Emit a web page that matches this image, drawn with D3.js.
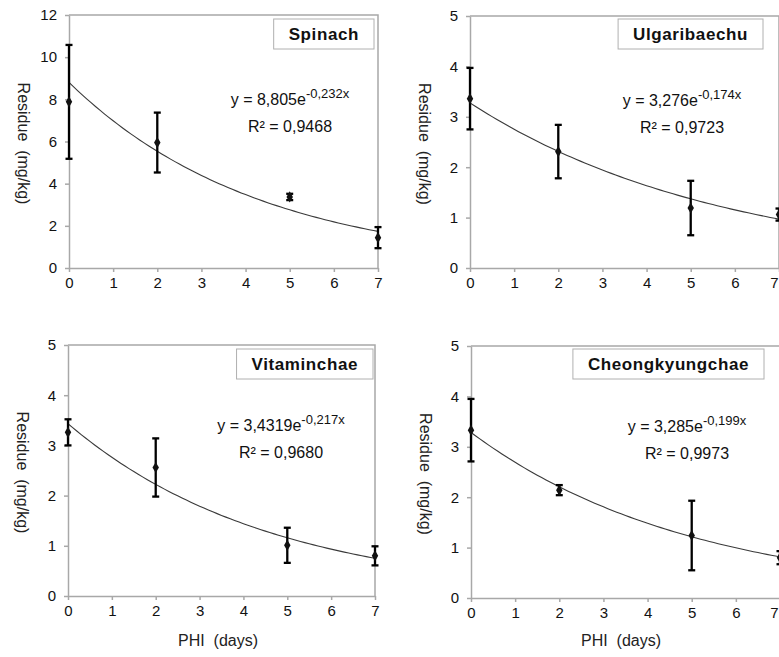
<!DOCTYPE html>
<html>
<head>
<meta charset="utf-8">
<script src="https://cdn.jsdelivr.net/npm/d3@7"></script>
<style>
  body { margin: 0; background: #fff; }
  svg { display: block; font-family: "Liberation Sans", Arial, sans-serif; }
  .axis path, .axis line { stroke: #a8a8a8; stroke-width: 1.5; }
  .axis text { font-size: 15px; fill: #111; }
</style>
</head>
<body>
<script>
(function (){

    //data
    var days = [0, 2, 5, 7];
    var crops = ["Spinach", "Ulgaribaechu", "Vitaminchae", "Cheongkyungchae"];
    var spinachMean = [7.88, 5.95, 3.37, 1.44];
    var spinachSd = [2.70, 1.42, 0.15, 0.50];
    var ulgariMean = [3.36, 2.31, 1.19, 1.06];
    var ulgariSd = [0.61, 0.53, 0.54, 0.12];
    var vitaMean = [3.26, 2.56, 1.01, 0.80];
    var vitaSd = [0.26, 0.58, 0.35, 0.19];
    var cheongMean = [3.33, 2.14, 1.24, 0.80];
    var cheongSd = [0.62, 0.10, 0.69, 0.13];
    var fitA = [8.805, 3.276, 3.4319, 3.285];
    var fitB = [-0.232, -0.174, -0.217, -0.199];
    var fitAText = ["8,805", "3,276", "3,4319", "3,285"];
    var fitBText = ["-0,232x", "-0,174x", "-0,217x", "-0,199x"];
    var r2Text = ["0,9468", "0,9723", "0,9680", "0,9973"];
    var yMax = [12, 5, 5, 5];
    var yStep = [2, 1, 1, 1];
    var xTicks = [0, 1, 2, 3, 4, 5, 6, 7];

    var means = [spinachMean, ulgariMean, vitaMean, cheongMean];
    var sds = [spinachSd, ulgariSd, vitaSd, cheongSd];

    //panel frames (pixels)
    var panels = [
        {x0: 69, x1: 378, top: 15, bottom: 268, eqX: 221, eqY: 90, boxY: 19, xlabel: false},
        {x0: 470, x1: 779, top: 16, bottom: 268, eqX: 212, eqY: 90, boxY: 19, xlabel: false},
        {x0: 68, x1: 375, top: 345, bottom: 596, eqX: 213, eqY: 86, boxY: 349, xlabel: true},
        {x0: 471, x1: 780, top: 346, bottom: 598, eqX: 216, eqY: 86, boxY: 349, xlabel: true}
    ];

    var svg = d3.select("body")
        .append("svg")
        .attr("width", 779)
        .attr("height", 657);

    panels.forEach(function(p, k){
        drawPanel(p, k);
    });

    function drawPanel(p, k){
        var x = d3.scaleLinear().domain([0, 7]).range([p.x0, p.x1]);
        var y = d3.scaleLinear().domain([0, yMax[k]]).range([p.bottom, p.top]);
        var g = svg.append("g");

        //plot frame top and right
        g.append("path")
            .attr("d", "M" + p.x0 + "," + p.top + "H" + p.x1 + "V" + p.bottom)
            .style("fill", "none")
            .style("stroke", "#a8a8a8")
            .style("stroke-width", 1.5);

        var yt = d3.range(0, yMax[k] + 0.001, yStep[k]);
        g.append("g")
            .attr("class", "axis")
            .attr("transform", "translate(" + p.x0 + ",0)")
            .call(d3.axisLeft(y).tickValues(yt).tickSize(4).tickSizeOuter(0).tickPadding(8).tickFormat(d3.format("d")));

        var xa = g.append("g")
            .attr("class", "axis")
            .attr("transform", "translate(0," + p.bottom + ")")
            .call(d3.axisBottom(x).tickValues(xTicks).tickSize(4).tickSizeOuter(0).tickPadding(5).tickFormat(d3.format("d")));

        //right column: last tick label sits at the page edge, keep it inside
        if (p.x1 >= 779){
            xa.selectAll(".tick text")
                .filter(function(d){ return d === 7; })
                .attr("text-anchor", "end")
                .attr("x", -1 - (p.x1 - 779));
        }

        //trend line
        var line = d3.line()
            .x(function(d){ return x(d); })
            .y(function(d){ return y(fitA[k] * Math.exp(fitB[k] * d)); });
        g.append("path")
            .datum(d3.range(0, 7.001, 0.1))
            .attr("d", line)
            .style("fill", "none")
            .style("stroke", "#3a3a3a")
            .style("stroke-width", 1.1);

        //error bars
        var pts = days.map(function(d, i){ return {d: d, m: means[k][i], s: sds[k][i]}; });
        var eb = g.selectAll(".eb").data(pts).enter().append("g");
        eb.append("line")
            .attr("x1", function(d){ return x(d.d); })
            .attr("x2", function(d){ return x(d.d); })
            .attr("y1", function(d){ return y(d.m + d.s); })
            .attr("y2", function(d){ return y(d.m - d.s); });
        eb.append("line")
            .attr("x1", function(d){ return x(d.d) - 3.5; })
            .attr("x2", function(d){ return x(d.d) + 3.5; })
            .attr("y1", function(d){ return y(d.m + d.s); })
            .attr("y2", function(d){ return y(d.m + d.s); });
        eb.append("line")
            .attr("x1", function(d){ return x(d.d) - 3.5; })
            .attr("x2", function(d){ return x(d.d) + 3.5; })
            .attr("y1", function(d){ return y(d.m - d.s); })
            .attr("y2", function(d){ return y(d.m - d.s); });
        eb.selectAll("line")
            .style("stroke", "#000")
            .style("stroke-width", 2.3);

        //diamond markers
        g.selectAll(".pt").data(pts).enter().append("path")
            .attr("d", d3.symbol().type(d3.symbolDiamond).size(36))
            .attr("transform", function(d){ return "translate(" + x(d.d) + "," + y(d.m) + ")"; })
            .style("fill", "#111");

        //equation
        var eq = g.append("text")
            .attr("x", p.x0 + p.eqX)
            .attr("y", p.top + p.eqY)
            .attr("text-anchor", "middle")
            .style("font-size", "16px")
            .style("fill", "#111");
        eq.append("tspan").text("y = " + fitAText[k] + "e");
        eq.append("tspan").attr("dy", -7).style("font-size", "13px").text(fitBText[k]);

        g.append("text")
            .attr("x", p.x0 + p.eqX)
            .attr("y", p.top + p.eqY + 27)
            .attr("text-anchor", "middle")
            .style("font-size", "16px")
            .style("fill", "#111")
            .text("R\u00b2 = " + r2Text[k]);

        //title box
        var box = g.append("rect");
        var title = g.append("text")
            .attr("y", p.boxY + 15)
            .attr("dominant-baseline", "central")
            .attr("text-anchor", "middle")
            .style("font-size", "17px")
            .style("font-weight", "bold")
            .style("letter-spacing", "0.6px")
            .style("fill", "#111")
            .text(crops[k]);
        var tw = title.node().getComputedTextLength();
        var boxRight = p.x0 + (k % 2 === 0 ? 305 : 293);
        var bw = tw + 30;
        title.attr("x", boxRight - bw / 2);
        box.attr("x", boxRight - bw)
            .attr("y", p.boxY)
            .attr("width", bw)
            .attr("height", 30)
            .style("fill", "#fff")
            .style("stroke", "#b0b0b0")
            .style("stroke-width", 1);

        //y label
        var cy = (p.top + p.bottom) / 2;
        g.append("text")
            .attr("transform", "translate(" + (p.x0 - 46) + "," + (cy + 2) + ") rotate(90)")
            .attr("text-anchor", "middle")
            .attr("dominant-baseline", "central")
            .style("font-size", "16px")
            .style("fill", "#222")
            .style("white-space", "pre")
            .text("Residue  (mg/kg)");

        if (p.xlabel){
            g.append("text")
                .attr("x", p.x0 + 150)
                .attr("y", 640)
                .attr("text-anchor", "middle")
                .attr("dominant-baseline", "central")
                .style("font-size", "16px")
                .style("fill", "#222")
                .style("white-space", "pre")
                .text("PHI  (days)");
        }
    }

})();
</script>
</body>
</html>
